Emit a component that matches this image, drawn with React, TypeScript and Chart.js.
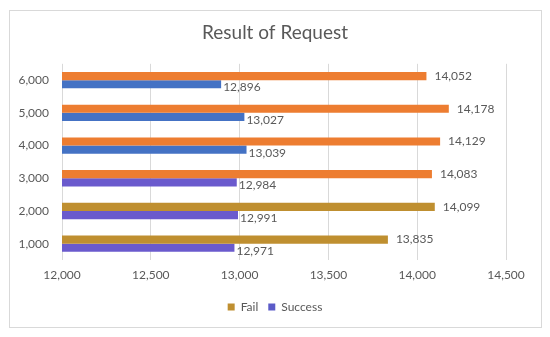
import React, { useEffect, useRef } from "react";
import { Chart, registerables } from "chart.js";

Chart.register(...registerables);

const categories = ["6,000", "5,000", "4,000", "3,000", "2,000", "1,000"];
const failValues = [14052, 14178, 14129, 14083, 14099, 13835];
const successValues = [12896, 13027, 13039, 12984, 12991, 12971];
const failColors = ["#ED7D31", "#ED7D31", "#ED7D31", "#ED7D31", "#BF8F30", "#BF8F30"];
const successColors = ["#4472C4", "#4472C4", "#4472C4", "#6A5ACD", "#6A5ACD", "#6A5ACD"];
const xTicks = [12000, 12500, 13000, 13500, 14000, 14500];
const title = "Result of Request";
const seriesNames = ["Fail", "Success"];
const legendColors = ["#BF8F30", "#5B5BC8"];

const FONT = "Lato, 'Open Sans', sans-serif";
const TEXT = "#595959";

const fmt = (v: number) => v.toLocaleString("en-US");

const labelPlugin = {
  id: "valueLabels",
  afterDatasetsDraw(chart: any) {
    const ctx = chart.ctx;
    ctx.save();
    ctx.font = `12px ${FONT}`;
    ctx.fillStyle = TEXT;
    ctx.textBaseline = "middle";
    ctx.textAlign = "left";
    chart.data.datasets.forEach((ds: any, di: number) => {
      const meta = chart.getDatasetMeta(di);
      meta.data.forEach((el: any, i: number) => {
        const dy = di === 1 ? 3 : 0;
        const dx = di === 1 ? 2 : 8;
        ctx.fillText(fmt(ds.data[i]), el.x + dx, el.y + dy);
      });
    });
    // category labels on the y axis
    const ys = chart.scales.y;
    ctx.textAlign = "right";
    chart.data.labels.forEach((lab: string, i: number) => {
      ctx.fillText(lab, chart.chartArea.left - 13, ys.getPixelForTick(i));
    });
    ctx.restore();
  },
};

export default function App() {
  const ref = useRef<HTMLCanvasElement>(null);
  useEffect(() => {
    const chart = new Chart(ref.current!, {
      type: "bar",
      data: {
        labels: categories,
        datasets: [
          { label: seriesNames[0], data: failValues, backgroundColor: failColors },
          { label: seriesNames[1], data: successValues, backgroundColor: successColors },
        ],
      },
      options: {
        indexAxis: "y",
        animation: false,
        responsive: false,
        maintainAspectRatio: false,
        layout: { padding: { left: 44, right: 44, top: 0, bottom: 14 } },
        datasets: { bar: { categoryPercentage: 0.5, barPercentage: 1 } },
        scales: {
          x: {
            min: 12000,
            max: 14500,
            afterBuildTicks: (s: any) => {
              s.ticks = xTicks.map((v) => ({ value: v }));
            },
            afterFit: (s: any) => {
              s.height = 31;
            },
            grid: { color: "#d9d9d9", drawTicks: false },
            border: { display: false },
            ticks: {
              color: TEXT,
              font: { family: FONT, size: 12 },
              padding: 8,
              callback: (v: any) => fmt(Number(v)),
            },
          },
          y: {
            afterFit: (s: any) => {
              s.width = 18;
            },
            grid: { display: false },
            border: { display: false },
            ticks: { display: false },
          },
        },
        plugins: {
          title: {
            display: true,
            text: title,
            color: TEXT,
            font: { family: FONT, size: 19, weight: "normal" },
            padding: { top: 21, bottom: 20 },
          },
          legend: {
            position: "bottom",
            labels: {
              color: TEXT,
              font: { family: FONT, size: 12 },
              boxWidth: 7,
              boxHeight: 7,
              padding: 10,
              generateLabels: () =>
                seriesNames.map((n, i) => ({
                  text: n,
                  fillStyle: legendColors[i],
                  strokeStyle: legendColors[i],
                  lineWidth: 0,
                  hidden: false,
                  datasetIndex: i,
                  fontColor: TEXT,
                })),
            },
          },
          tooltip: { enabled: false },
        },
      },
      plugins: [labelPlugin],
    });
    return () => chart.destroy();
  }, []);
  return (
    <div style={{ position: "fixed", left: 0, top: 0, width: 550, height: 337, background: "#fff" }}>
      <div
        style={{
          position: "absolute",
          left: 9,
          top: 10,
          width: 531,
          height: 316,
          border: "1px solid #d9d9d9",
        }}
      />
      <canvas ref={ref} width={550} height={337} style={{ position: "absolute", left: 0, top: 0 }} />
    </div>
  );
}
